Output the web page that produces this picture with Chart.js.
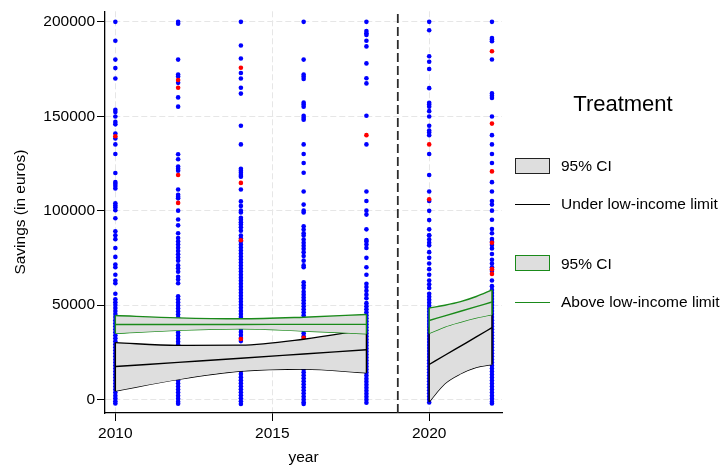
<!DOCTYPE html>
<html>
<head>
<meta charset="utf-8">
<script src="https://cdn.jsdelivr.net/npm/chart.js@4/dist/chart.umd.min.js"></script>
<style>
  html, body { margin: 0; padding: 0; background: #fff; }
  #wrap { position: relative; width: 728px; height: 470px; font-family: "Liberation Sans", Arial, sans-serif; color: #000; }
  #chart { position: absolute; left: 0; top: 0; }
  .lg { position: absolute; font-size: 15.5px; line-height: 18px; white-space: nowrap; }
  .lg-title { position: absolute; left: 523px; width: 200px; top: 91px; text-align: center; font-size: 22px; line-height: 26px; }
  .lg-box { position: absolute; left: 515px; width: 35px; height: 16px; box-sizing: border-box; background: #dedede; border: 1px solid #222; }
  .lg-line { position: absolute; left: 515px; width: 35px; height: 0; border-top: 1.4px solid #000; }
</style>
</head>
<body>
<div id="wrap">
  <canvas id="chart" width="728" height="470"></canvas>
  <div class="lg-title">Treatment</div>
  <div class="lg-box" style="top:158px"></div>
  <div class="lg" style="left:561px;top:157px">95% CI</div>
  <div class="lg-line" style="top:204px"></div>
  <div class="lg" style="left:561px;top:195px">Under low-income limit</div>
  <div class="lg-box" style="top:255px;border-color:#1a8a1a"></div>
  <div class="lg" style="left:561px;top:255px">95% CI</div>
  <div class="lg-line" style="top:302px;border-color:#1a8a1a"></div>
  <div class="lg" style="left:561px;top:293px">Above low-income limit</div>
</div>
<script>
// axis setup
const xTicks = [2010, 2015, 2020];
const yTicks = [0, 50000, 100000, 150000, 200000];
const xMin = 2009.67, xMax = 2022.32;
const yMin = -7200, yMax = 205600;
const cutoffYear = 2019;

// observed savings per survey year (blue = under, red = above low-income limit)
const blue2010 = [200000, 190000, 180000, 175500, 170000, 153400, 152200, 149900, 147000, 145700, 140800, 138200, 135100, 130000,
  119900, 115200, 114200, 113100, 111700, 103900, 102700, 101700, 100200, 96000, 89100, 87000, 84900, 80200, 75500, 71500, 70000,
  66000, 63000, 61500, 56000, 53000, 51500, 50000, 48400, 46800, 45200, 43600, 42000, 40400, 38800, 37200, 35600, 34000, 32400,
  30800, 29200, 27600, 26000, 24400, 22800, 21200, 19600, 18000, 16400, 14800, 13200, 11600, 10000, 8400, 6800, 5200, 3600, 2000,
  500, -1000, -2200];
const red2010 = [139400];

const blue2012 = [200000, 199000, 180000, 172100, 171000, 167700, 160000, 155100, 129900, 127200, 123400, 122200, 121100, 111200,
  108400, 107400, 106500, 100000, 95300, 92200, 88000, 85500, 83700, 82000, 80300, 78600, 76900, 75200, 73500, 71000, 69500, 67600,
  65000, 63500, 61500, 54600, 53000, 51400, 49800, 48200, 46600, 45000, 43400, 41800, 40200, 38600, 37000, 35400, 33800, 32200,
  30600, 29000, 24000, 18000, 12000, 10000, 8400, 6800, 5200, 3600, 2000, 400, -1200, -2300];
const red2012 = [169200, 165100, 118900, 104100];

const blue2014 = [200000, 187500, 180600, 172900, 170000, 165100, 162000, 145000, 135100, 122200, 121100, 120100, 118900, 118000,
  111200, 104900, 102500, 100000, 99000, 96200, 95200, 93800, 92600, 91200, 89400, 86800, 85300, 83700, 82100, 80500, 78900, 77300,
  75700, 74100, 72500, 70900, 69300, 67700, 66100, 64500, 62900, 61300, 59700, 58100, 56500, 54900, 53300, 51700, 50100, 48500,
  46900, 45300, 43700, 42100, 40500, 38900, 37300, 35700, 34100, 32500, 30900, 26000, 23000, 20000, 17000, 15000, 13400, 11800,
  10200, 8600, 7000, 5400, 3800, 2200, 600, -1000, -2400];
const red2014 = [175700, 114700, 84300, 32000];

const blue2016 = [200000, 180000, 172100, 171000, 169800, 157200, 156200, 155100, 150300, 149200, 148200, 135100, 130000, 125200,
  120100, 110100, 103200, 100000, 99000, 91700, 90000, 88000, 86800, 84700, 83000, 81400, 79800, 78000, 76000, 73500, 71000, 70000,
  62000, 60500, 59000, 57000, 55500, 54000, 52500, 51000, 49400, 47800, 46200, 44600, 43000, 41400, 39800, 38200, 36600, 35000,
  33400, 31800, 30200, 28000, 24000, 20000, 16000, 14400, 12800, 11200, 9600, 8000, 6400, 4800, 3200, 1600, 0, -1500, -2400];
const red2016 = [32700];

const blue2018 = [200000, 195200, 194000, 193100, 190000, 187000, 178000, 170100, 167400, 150300, 135100, 110100, 105100, 100000,
  97900, 90100, 84400, 83700, 82000, 80200, 75000, 70000, 66000, 61300, 59500, 57500, 55500, 53600, 51000, 49400, 47800, 46200,
  44600, 43000, 41400, 39800, 38200, 36600, 35000, 33400, 31800, 30200, 28600, 27000, 25400, 23800, 22200, 20600, 19000, 17400,
  15800, 14200, 12600, 11000, 9400, 7800, 6200, 4600, 3000, 1400, -200, -1800];
const red2018 = [140000];

const blue2020 = [200000, 195600, 181800, 178900, 175000, 164900, 157100, 156200, 155000, 152700, 149900, 145000, 142400, 141400,
  140000, 130000, 118900, 110100, 105100, 99900, 95000, 90100, 87000, 86800, 84700, 83000, 81600, 78000, 75000, 72000, 69000,
  66000, 63000, 61000, 59000, 56000, 54400, 52800, 51200, 49600, 48000, 46400, 44800, 43200, 41600, 40000, 38400, 36800, 35200,
  33600, 32000, 30400, 28800, 27200, 25600, 24000, 22400, 20800, 19200, 17600, 16000, 14400, 12800, 11200, 9600, 8000, 6400,
  4800, 3200, 1600, 0, -1600];
const red2020 = [135100, 106000];

const blue2022 = [200000, 191400, 190600, 189700, 180100, 162100, 160900, 159700, 149900, 140000, 135100, 130000, 125200, 115100,
  110100, 105100, 103200, 100000, 95200, 90300, 88000, 85000, 83500, 81800, 80000, 77000, 74000, 72000, 70000, 68000, 63000,
  60000, 58000, 56400, 54800, 53200, 51600, 50000, 48400, 46800, 45200, 43600, 42000, 40400, 38800, 37200, 35600, 34000, 32400,
  30800, 29200, 27600, 26000, 24400, 22800, 21200, 19600, 18000, 16400, 14800, 13200, 11600, 10000, 8400, 6800, 5200, 3600, 2000,
  400, -1200, -2200];
const red2022 = [184400, 146100, 120800, 83000, 69000, 66500];

const surveyYears = [2010, 2012, 2014, 2016, 2018, 2020, 2022];
const blueByYear = [blue2010, blue2012, blue2014, blue2016, blue2018, blue2020, blue2022];
const redByYear = [red2010, red2012, red2014, red2016, red2018, red2020, red2022];

// fitted trends with 95% CI, before and after the cutoff
const preYears = [2010, 2012, 2014, 2016, 2018];
const underPreFit = [17400, 19600, 21800, 24050, 26300];
const underPreHi = [30100, 28600, 28750, 31900, 37000];
const underPreLo = [4500, 10600, 15000, 16100, 14100];
const abovePreFit = [39700, 39700, 39700, 39750, 39750];
const abovePreHi = [44450, 43200, 42700, 43550, 45000];
const abovePreLo = [35000, 36600, 37450, 36250, 34800];

const postYears = [2020, 2020.5, 2021, 2021.5, 2022];
const underPostFit = [18500, 23400, 28250, 33100, 38000];
const underPostHi = [38200, 43000, 47600, 52500, 57500];
const underPostLo = [-1200, 8400, 13600, 17000, 18500];
const abovePostFit = [41800, 44250, 46700, 49150, 51600];
const abovePostHi = [48400, 49900, 51800, 54500, 58000];
const abovePostLo = [35000, 38500, 41000, 43200, 45000];

const BLACK = '#000000';
const GREEN = '#1a8a1a';
const BAND = '#dedede';
const axisFont = { family: '"Liberation Sans", Arial, sans-serif', size: 15.5 };

function pts(xs, ys) {
  return xs.map((x, i) => ({ x: x, y: ys[i] }));
}

function scatterOf(groups) {
  const out = [];
  groups.forEach((vals, i) => vals.forEach(v => out.push({ x: surveyYears[i], y: v })));
  return out;
}

function edges(xs, lo, hi) {
  const n = xs.length - 1;
  return [
    { x: xs[0], y: lo[0] }, { x: xs[0], y: hi[0] },
    { x: xs[0], y: null },
    { x: xs[n], y: lo[n] }, { x: xs[n], y: hi[n] }
  ];
}

function curve(data, color, order, extra) {
  return Object.assign({
    data: data, borderColor: color, borderWidth: 1.4, pointRadius: 0,
    cubicInterpolationMode: 'monotone', fill: false, order: order
  }, extra || {});
}

function band(xs, fit, hi, lo, color, order) {
  return [
    curve(pts(xs, hi), color, order, { fill: '+1', backgroundColor: BAND }),
    curve(pts(xs, lo), color, order),
    curve(pts(xs, fit), color, order - 1),
    curve(edges(xs, lo, hi), color, order - 1, { cubicInterpolationMode: 'default', tension: 0 })
  ];
}

const datasets = [
  { data: scatterOf(blueByYear), showLine: false, pointRadius: 2.3, pointBorderWidth: 0,
    pointBackgroundColor: '#0000ff', order: 20 },
  { data: scatterOf(redByYear), showLine: false, pointRadius: 2.3, pointBorderWidth: 0,
    pointBackgroundColor: '#ff0000', order: 19 },
  ...band(preYears, underPreFit, underPreHi, underPreLo, BLACK, 12),
  ...band(postYears, underPostFit, underPostHi, underPostLo, BLACK, 12),
  ...band(preYears, abovePreFit, abovePreHi, abovePreLo, GREEN, 8),
  ...band(postYears, abovePostFit, abovePostHi, abovePostLo, GREEN, 8),
  { data: [{ x: cutoffYear, y: yMin }, { x: cutoffYear, y: yMax }], borderColor: '#2b2b2b', borderWidth: 1.8,
    borderDash: [9, 4], pointRadius: 0, fill: false, order: 1 }
];

new Chart(document.getElementById('chart'), {
  type: 'line',
  data: { datasets: datasets },
  options: {
    responsive: false,
    animation: false,
    events: [],
    layout: { padding: { top: 6, right: 226, left: 0, bottom: 0 } },
    plugins: { legend: { display: false }, tooltip: { enabled: false } },
    scales: {
      x: {
        type: 'linear', min: xMin, max: xMax,
        afterBuildTicks: s => { s.ticks = xTicks.map(v => ({ value: v })); },
        afterFit: s => { s.height = 57; },
        ticks: { callback: v => String(v), font: axisFont, color: '#000', padding: 3, maxRotation: 0, autoSkip: false },
        grid: { color: '#e6e6e6', lineWidth: 1, tickColor: '#000', tickLength: 8, tickWidth: 1, tickBorderDash: [] },
        border: { display: true, color: '#000', width: 1.3, dash: [6, 3] },
        title: { display: true, text: 'year', font: axisFont, color: '#000', padding: { top: 0, bottom: 3 } }
      },
      y: {
        type: 'linear', min: yMin, max: yMax,
        afterBuildTicks: s => { s.ticks = yTicks.map(v => ({ value: v })); },
        afterFit: s => { s.width = 105; },
        ticks: { callback: v => String(v), font: axisFont, color: '#000', padding: 2 },
        grid: { color: '#e6e6e6', lineWidth: 1, tickColor: '#000', tickLength: 8, tickWidth: 1, tickBorderDash: [] },
        border: { display: true, color: '#000', width: 1.3, dash: [6, 3] },
        title: { display: true, text: 'Savings (in euros)', font: axisFont, color: '#000', padding: { top: 11, bottom: 0 } }
      }
    }
  }
});
</script>
</body>
</html>
